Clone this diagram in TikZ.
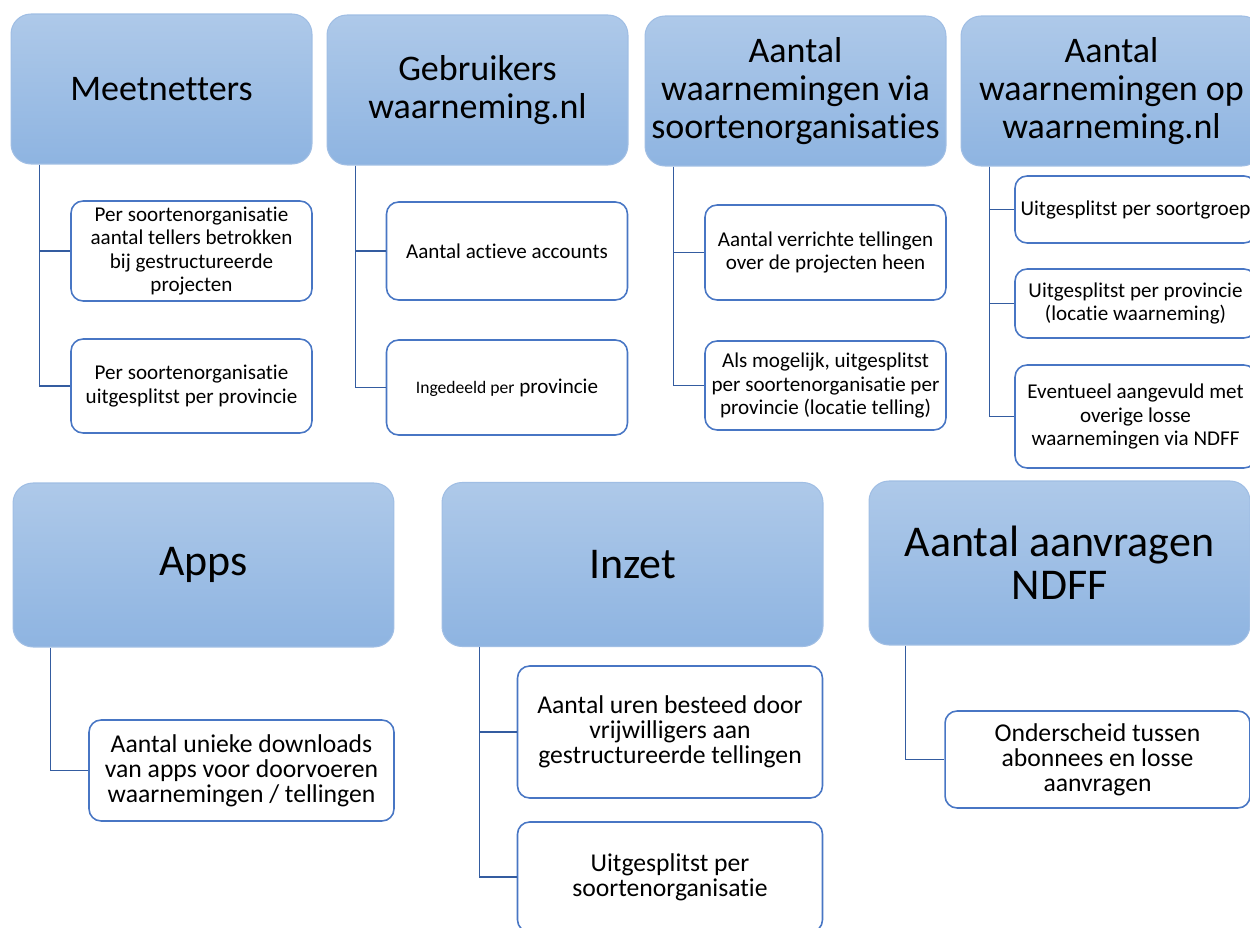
\documentclass[tikz,border=0pt]{standalone}
\usepackage{fontspec}
\setmainfont{Carlito}[Ligatures=NoCommon]
\usetikzlibrary{positioning}
\definecolor{hdtop}{RGB}{174,201,233}
\definecolor{hdbot}{RGB}{142,180,225}
\definecolor{hdline}{RGB}{160,190,228}
\definecolor{subline}{RGB}{72,118,196}
\definecolor{linkcol}{RGB}{52,92,160}

\begin{document}
\begin{tikzpicture}[x=0.02cm, y=-0.02cm,
    head/.style={draw=hdline, top color=hdtop, bottom color=hdbot, rounded corners=0.4cm, align=center, line width=0.6pt},
    headtop/.style={head, minimum width=6.02cm, minimum height=3cm, font=\fontsize{20.5}{21.8}\selectfont},
    headlow/.style={head, minimum width=7.62cm, minimum height=3.28cm, font=\fontsize{25}{24.6}\selectfont},
    sub/.style={draw=subline, fill=white, rounded corners=0.24cm, align=center, line width=0.9pt, inner sep=2pt},
    subsmall/.style={sub, minimum width=4.82cm, font=\fontsize{12}{13.3}\selectfont},
    subwide/.style={sub, minimum width=6.1cm, font=\fontsize{14.6}{14.2}\selectfont},
    link/.style={draw=linkcol, line width=1pt}]
    \useasboundingbox (0,0) rectangle (1250,928);
    \clip (0,0) rectangle (1250,928);
    \node[headtop] (m) at (161.5,89) {Meetnetters};
    \node[headtop] (g) at (477.5,90) {Gebruikers\\waarneming.nl};
    \node[headtop] (s) at (795.5,91) {Aantal\\waarnemingen via\\soortenorganisaties};
    \node[headtop] (w) at (1111.5,91) {Aantal\\waarnemingen op\\waarneming.nl};
    \node[headlow] (a) at (203.5,565) {Apps};
    \node[headlow] (i) at (632.5,564.5) {Inzet};
    \node[headlow] (n) at (1059.5,563) {Aantal aanvragen\\NDFF};
    \node[subsmall, minimum height=2cm] (m1) at (191.5,251) {Per soortenorganisatie\\aantal tellers betrokken\\bij gestructureerde\\projecten};
    \node[subsmall, minimum height=1.88cm] (m2) at (191.5,386) {Per soortenorganisatie\\uitgesplitst per provincie};
    \node[subsmall, minimum height=1.96cm] (g1) at (507,251) {Aantal actieve accounts};
    \node[subsmall, minimum height=1.9cm] (g2) at (507,387.5) {{\fontsize{10}{12}\selectfont Ingedeeld per} provincie};
    \node[subsmall, minimum height=1.9cm] (s1) at (825.5,252.5) {Aantal verrichte tellingen\\over de projecten heen};
    \node[subsmall, minimum height=1.78cm] (s2) at (825.5,385.5) {Als mogelijk, uitgesplitst\\per soortenorganisatie per\\provincie (locatie telling)};
    \node[subsmall, minimum height=1.34cm] (w1) at (1135.5,209.5) {Uitgesplitst per soortgroep};
    \node[subsmall, minimum height=1.38cm] (w2) at (1135.5,303.5) {Uitgesplitst per provincie\\(locatie waarneming)};
    \node[subsmall, minimum height=2.06cm] (w3) at (1135.5,416.5) {Eventueel aangevuld met\\overige losse\\waarnemingen via NDFF};
    \node[subwide, minimum height=2.02cm] (a1) at (241.5,770.5) {Aantal unieke downloads\\van apps voor doorvoeren\\waarnemingen / tellingen};
    \node[subwide, minimum height=2.64cm] (i1) at (670,732) {Aantal uren besteed door\\vrijwilligers aan\\gestructureerde tellingen};
    \node[subwide, minimum height=2.2cm] (i2) at (670,877) {Uitgesplitst per\\soortenorganisatie};
    \node[subwide, minimum height=1.94cm] (n1) at (1097.5,759.5) {Onderscheid tussen\\abonnees en losse\\aanvragen};
    \draw[link] ([xshift=.58cm]m.south west) |- (m1.west);
    \draw[link] ([xshift=.58cm]m.south west) |- (m2.west);
    \draw[link] ([xshift=.58cm]g.south west) |- (g1.west);
    \draw[link] ([xshift=.58cm]g.south west) |- (g2.west);
    \draw[link] ([xshift=.58cm]s.south west) |- (s1.west);
    \draw[link] ([xshift=.58cm]s.south west) |- (s2.west);
    \draw[link] ([xshift=.58cm]w.south west) |- (w1.west);
    \draw[link] ([xshift=.58cm]w.south west) |- (w2.west);
    \draw[link] ([xshift=.58cm]w.south west) |- (w3.west);
    \draw[link] ([xshift=.76cm]a.south west) |- (a1.west);
    \draw[link] ([xshift=.76cm]i.south west) |- (i1.west);
    \draw[link] ([xshift=.76cm]i.south west) |- (i2.west);
    \draw[link] ([xshift=.74cm]n.south west) |- (n1.west);
\end{tikzpicture}
\end{document}
